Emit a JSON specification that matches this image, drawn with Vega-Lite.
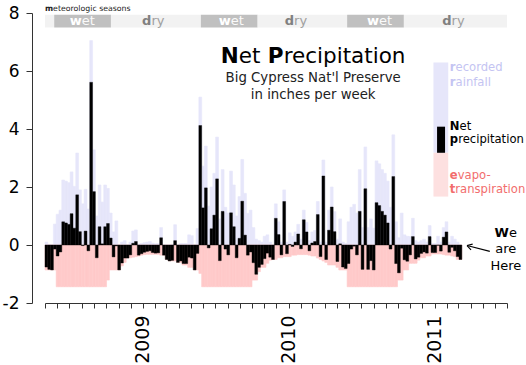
{
"$schema": "https://vega.github.io/schema/vega-lite/v6.json",
"width": 462, "height": 290,
"autosize": {"type": "none"},
"padding": {"left": 45, "top": 13, "right": 19, "bottom": 62},
"background": "white",
"config": {"view": {"stroke": null}, "font": "DejaVu Sans", "text": {"font": "DejaVu Sans"}},
"datasets": {
"weeks": [
{"d":"2008-05-01","d2":"2008-05-08","rain":0.1,"et":-0.86,"net":-0.76},
{"d":"2008-05-08","d2":"2008-05-15","rain":0.02,"et":-0.86,"net":-0.84},
{"d":"2008-05-15","d2":"2008-05-22","rain":0,"et":-0.86,"net":-0.86},
{"d":"2008-05-22","d2":"2008-05-29","rain":0.72,"et":-0.86,"net":-0.14},
{"d":"2008-05-29","d2":"2008-06-05","rain":1.06,"et":-1.44,"net":-0.38},
{"d":"2008-06-05","d2":"2008-06-12","rain":1.2,"et":-1.44,"net":-0.24},
{"d":"2008-06-12","d2":"2008-06-19","rain":2.24,"et":-1.44,"net":0.8},
{"d":"2008-06-19","d2":"2008-06-26","rain":2.2,"et":-1.44,"net":0.76},
{"d":"2008-06-26","d2":"2008-07-03","rain":2.15,"et":-1.44,"net":0.71},
{"d":"2008-07-03","d2":"2008-07-10","rain":2.52,"et":-1.44,"net":1.08},
{"d":"2008-07-10","d2":"2008-07-17","rain":2.02,"et":-1.44,"net":0.58},
{"d":"2008-07-17","d2":"2008-07-24","rain":3.17,"et":-1.44,"net":1.73},
{"d":"2008-07-24","d2":"2008-07-31","rain":1.9,"et":-1.44,"net":0.46},
{"d":"2008-07-31","d2":"2008-08-07","rain":1.42,"et":-1.44,"net":-0.02},
{"d":"2008-08-07","d2":"2008-08-14","rain":1.92,"et":-1.44,"net":0.48},
{"d":"2008-08-14","d2":"2008-08-21","rain":1.24,"et":-1.44,"net":-0.2},
{"d":"2008-08-21","d2":"2008-08-28","rain":7.05,"et":-1.44,"net":5.61},
{"d":"2008-08-28","d2":"2008-09-04","rain":3.28,"et":-1.44,"net":1.84},
{"d":"2008-09-04","d2":"2008-09-11","rain":1.0,"et":-1.44,"net":-0.44},
{"d":"2008-09-11","d2":"2008-09-18","rain":2.07,"et":-1.44,"net":0.63},
{"d":"2008-09-18","d2":"2008-09-25","rain":1.48,"et":-1.44,"net":0.04},
{"d":"2008-09-25","d2":"2008-10-02","rain":2.07,"et":-1.44,"net":0.63},
{"d":"2008-10-02","d2":"2008-10-09","rain":1.95,"et":-1.21,"net":0.74},
{"d":"2008-10-09","d2":"2008-10-16","rain":1.1,"et":-0.86,"net":0.24},
{"d":"2008-10-16","d2":"2008-10-23","rain":0.45,"et":-0.86,"net":-0.41},
{"d":"2008-10-23","d2":"2008-10-30","rain":0.83,"et":-0.86,"net":-0.03},
{"d":"2008-10-30","d2":"2008-11-06","rain":0,"et":-0.86,"net":-0.86},
{"d":"2008-11-06","d2":"2008-11-13","rain":0.1,"et":-0.72,"net":-0.62},
{"d":"2008-11-13","d2":"2008-11-20","rain":0.15,"et":-0.6,"net":-0.45},
{"d":"2008-11-20","d2":"2008-11-27","rain":0,"et":-0.45,"net":-0.45},
{"d":"2008-11-27","d2":"2008-12-04","rain":0.1,"et":-0.44,"net":-0.34},
{"d":"2008-12-04","d2":"2008-12-11","rain":0.48,"et":-0.42,"net":0.06},
{"d":"2008-12-11","d2":"2008-12-18","rain":0.52,"et":-0.4,"net":0.12},
{"d":"2008-12-18","d2":"2008-12-25","rain":0.03,"et":-0.38,"net":-0.35},
{"d":"2008-12-25","d2":"2009-01-01","rain":0.05,"et":-0.35,"net":-0.3},
{"d":"2009-01-01","d2":"2009-01-08","rain":0.08,"et":-0.33,"net":-0.25},
{"d":"2009-01-08","d2":"2009-01-15","rain":0.1,"et":-0.32,"net":-0.22},
{"d":"2009-01-15","d2":"2009-01-22","rain":0.12,"et":-0.32,"net":-0.2},
{"d":"2009-01-22","d2":"2009-01-29","rain":0.06,"et":-0.32,"net":-0.26},
{"d":"2009-01-29","d2":"2009-02-05","rain":0.04,"et":-0.32,"net":-0.28},
{"d":"2009-02-05","d2":"2009-02-12","rain":0.05,"et":-0.32,"net":-0.27},
{"d":"2009-02-12","d2":"2009-02-19","rain":0.6,"et":-0.35,"net":0.25},
{"d":"2009-02-19","d2":"2009-02-26","rain":0,"et":-0.35,"net":-0.35},
{"d":"2009-02-26","d2":"2009-03-05","rain":0,"et":-0.5,"net":-0.5},
{"d":"2009-03-05","d2":"2009-03-12","rain":0,"et":-0.55,"net":-0.55},
{"d":"2009-03-12","d2":"2009-03-19","rain":0.02,"et":-0.55,"net":-0.53},
{"d":"2009-03-19","d2":"2009-03-26","rain":0.7,"et":-0.55,"net":0.15},
{"d":"2009-03-26","d2":"2009-04-02","rain":0,"et":-0.6,"net":-0.6},
{"d":"2009-04-02","d2":"2009-04-09","rain":0.05,"et":-0.6,"net":-0.55},
{"d":"2009-04-09","d2":"2009-04-16","rain":0.05,"et":-0.69,"net":-0.64},
{"d":"2009-04-16","d2":"2009-04-23","rain":0.05,"et":-0.69,"net":-0.64},
{"d":"2009-04-23","d2":"2009-04-30","rain":0.35,"et":-0.77,"net":-0.42},
{"d":"2009-04-30","d2":"2009-05-07","rain":0.32,"et":-0.77,"net":-0.45},
{"d":"2009-05-07","d2":"2009-05-14","rain":0,"et":-0.86,"net":-0.86},
{"d":"2009-05-14","d2":"2009-05-21","rain":0.57,"et":-0.86,"net":-0.29},
{"d":"2009-05-21","d2":"2009-05-28","rain":5.1,"et":-0.98,"net":4.12},
{"d":"2009-05-28","d2":"2009-06-04","rain":2.72,"et":-1.44,"net":1.28},
{"d":"2009-06-04","d2":"2009-06-11","rain":3.41,"et":-1.44,"net":1.97},
{"d":"2009-06-11","d2":"2009-06-18","rain":1.34,"et":-1.44,"net":-0.1},
{"d":"2009-06-18","d2":"2009-06-25","rain":2.0,"et":-1.44,"net":0.56},
{"d":"2009-06-25","d2":"2009-07-02","rain":2.47,"et":-1.44,"net":1.03},
{"d":"2009-07-02","d2":"2009-07-09","rain":3.72,"et":-1.44,"net":2.28},
{"d":"2009-07-09","d2":"2009-07-16","rain":0.9,"et":-1.44,"net":-0.54},
{"d":"2009-07-16","d2":"2009-07-23","rain":2.6,"et":-1.44,"net":1.16},
{"d":"2009-07-23","d2":"2009-07-30","rain":1.3,"et":-1.44,"net":-0.14},
{"d":"2009-07-30","d2":"2009-08-06","rain":1.1,"et":-1.44,"net":-0.34},
{"d":"2009-08-06","d2":"2009-08-13","rain":2.55,"et":-1.44,"net":1.11},
{"d":"2009-08-13","d2":"2009-08-20","rain":2.07,"et":-1.44,"net":0.63},
{"d":"2009-08-20","d2":"2009-08-27","rain":1.0,"et":-1.44,"net":-0.44},
{"d":"2009-08-27","d2":"2009-09-03","rain":1.67,"et":-1.44,"net":0.23},
{"d":"2009-09-03","d2":"2009-09-10","rain":2.95,"et":-1.44,"net":1.51},
{"d":"2009-09-10","d2":"2009-09-17","rain":1.78,"et":-1.44,"net":0.34},
{"d":"2009-09-17","d2":"2009-09-24","rain":1.09,"et":-1.44,"net":-0.35},
{"d":"2009-09-24","d2":"2009-10-01","rain":1.2,"et":-1.44,"net":-0.24},
{"d":"2009-10-01","d2":"2009-10-08","rain":0.6,"et":-1.21,"net":-0.61},
{"d":"2009-10-08","d2":"2009-10-15","rain":0.2,"et":-1.21,"net":-1.01},
{"d":"2009-10-15","d2":"2009-10-22","rain":0.15,"et":-0.92,"net":-0.77},
{"d":"2009-10-22","d2":"2009-10-29","rain":0.1,"et":-0.77,"net":-0.67},
{"d":"2009-10-29","d2":"2009-11-05","rain":0.3,"et":-0.77,"net":-0.47},
{"d":"2009-11-05","d2":"2009-11-12","rain":0.35,"et":-0.63,"net":-0.28},
{"d":"2009-11-12","d2":"2009-11-19","rain":0.1,"et":-0.52,"net":-0.42},
{"d":"2009-11-19","d2":"2009-11-26","rain":0,"et":-0.5,"net":-0.5},
{"d":"2009-11-26","d2":"2009-12-03","rain":1.42,"et":-0.5,"net":0.92},
{"d":"2009-12-03","d2":"2009-12-10","rain":0.8,"et":-0.44,"net":0.36},
{"d":"2009-12-10","d2":"2009-12-17","rain":0.1,"et":-0.44,"net":-0.34},
{"d":"2009-12-17","d2":"2009-12-24","rain":1.9,"et":-0.4,"net":1.5},
{"d":"2009-12-24","d2":"2009-12-31","rain":0.1,"et":-0.4,"net":-0.3},
{"d":"2009-12-31","d2":"2010-01-07","rain":0.42,"et":-0.4,"net":0.02},
{"d":"2010-01-07","d2":"2010-01-14","rain":0.3,"et":-0.35,"net":-0.05},
{"d":"2010-01-14","d2":"2010-01-21","rain":0.45,"et":-0.35,"net":0.1},
{"d":"2010-01-21","d2":"2010-01-28","rain":0.71,"et":-0.33,"net":0.38},
{"d":"2010-01-28","d2":"2010-02-04","rain":0.2,"et":-0.33,"net":-0.13},
{"d":"2010-02-04","d2":"2010-02-11","rain":1.2,"et":-0.33,"net":0.87},
{"d":"2010-02-11","d2":"2010-02-18","rain":0.78,"et":-0.33,"net":0.45},
{"d":"2010-02-18","d2":"2010-02-25","rain":0.15,"et":-0.35,"net":-0.2},
{"d":"2010-02-25","d2":"2010-03-04","rain":0.45,"et":-0.38,"net":0.07},
{"d":"2010-03-04","d2":"2010-03-11","rain":0.5,"et":-0.38,"net":0.12},
{"d":"2010-03-11","d2":"2010-03-18","rain":1.5,"et":-0.45,"net":1.05},
{"d":"2010-03-18","d2":"2010-03-25","rain":0.1,"et":-0.5,"net":-0.4},
{"d":"2010-03-25","d2":"2010-04-01","rain":2.93,"et":-0.55,"net":2.38},
{"d":"2010-04-01","d2":"2010-04-08","rain":0.1,"et":-0.6,"net":-0.5},
{"d":"2010-04-08","d2":"2010-04-15","rain":1.2,"et":-0.69,"net":0.51},
{"d":"2010-04-15","d2":"2010-04-22","rain":2.0,"et":-0.69,"net":1.31},
{"d":"2010-04-22","d2":"2010-04-29","rain":1.15,"et":-0.69,"net":0.46},
{"d":"2010-04-29","d2":"2010-05-06","rain":0.2,"et":-0.77,"net":-0.57},
{"d":"2010-05-06","d2":"2010-05-13","rain":0.9,"et":-0.86,"net":0.04},
{"d":"2010-05-13","d2":"2010-05-20","rain":0.1,"et":-0.86,"net":-0.76},
{"d":"2010-05-20","d2":"2010-05-27","rain":0.05,"et":-0.86,"net":-0.81},
{"d":"2010-05-27","d2":"2010-06-03","rain":0.8,"et":-1.44,"net":-0.64},
{"d":"2010-06-03","d2":"2010-06-10","rain":1.3,"et":-1.44,"net":-0.14},
{"d":"2010-06-10","d2":"2010-06-17","rain":1.4,"et":-1.44,"net":-0.04},
{"d":"2010-06-17","d2":"2010-06-24","rain":1.1,"et":-1.44,"net":-0.34},
{"d":"2010-06-24","d2":"2010-07-01","rain":2.6,"et":-1.44,"net":1.16},
{"d":"2010-07-01","d2":"2010-07-08","rain":0.6,"et":-1.44,"net":-0.84},
{"d":"2010-07-08","d2":"2010-07-15","rain":3.38,"et":-1.44,"net":1.94},
{"d":"2010-07-15","d2":"2010-07-22","rain":0.6,"et":-1.44,"net":-0.84},
{"d":"2010-07-22","d2":"2010-07-29","rain":0.9,"et":-1.44,"net":-0.54},
{"d":"2010-07-29","d2":"2010-08-05","rain":0.58,"et":-1.44,"net":-0.86},
{"d":"2010-08-05","d2":"2010-08-12","rain":2.9,"et":-1.44,"net":1.46},
{"d":"2010-08-12","d2":"2010-08-19","rain":2.8,"et":-1.44,"net":1.36},
{"d":"2010-08-19","d2":"2010-08-26","rain":2.6,"et":-1.44,"net":1.16},
{"d":"2010-08-26","d2":"2010-09-02","rain":2.47,"et":-1.44,"net":1.03},
{"d":"2010-09-02","d2":"2010-09-09","rain":2.2,"et":-1.44,"net":0.76},
{"d":"2010-09-09","d2":"2010-09-16","rain":1.3,"et":-1.44,"net":-0.14},
{"d":"2010-09-16","d2":"2010-09-23","rain":3.8,"et":-1.44,"net":2.36},
{"d":"2010-09-23","d2":"2010-09-30","rain":0.8,"et":-1.44,"net":-0.64},
{"d":"2010-09-30","d2":"2010-10-07","rain":0.25,"et":-1.21,"net":-0.96},
{"d":"2010-10-07","d2":"2010-10-14","rain":1.1,"et":-1.21,"net":-0.11},
{"d":"2010-10-14","d2":"2010-10-21","rain":0.35,"et":-0.86,"net":-0.51},
{"d":"2010-10-21","d2":"2010-10-28","rain":0.3,"et":-0.86,"net":-0.56},
{"d":"2010-10-28","d2":"2010-11-04","rain":0.29,"et":-0.63,"net":-0.34},
{"d":"2010-11-04","d2":"2010-11-11","rain":0.92,"et":-0.63,"net":0.29},
{"d":"2010-11-11","d2":"2010-11-18","rain":0.15,"et":-0.63,"net":-0.48},
{"d":"2010-11-18","d2":"2010-11-25","rain":0.1,"et":-0.52,"net":-0.42},
{"d":"2010-11-25","d2":"2010-12-02","rain":0.15,"et":-0.44,"net":-0.29},
{"d":"2010-12-02","d2":"2010-12-09","rain":0.2,"et":-0.44,"net":-0.24},
{"d":"2010-12-09","d2":"2010-12-16","rain":0.1,"et":-0.38,"net":-0.28},
{"d":"2010-12-16","d2":"2010-12-23","rain":0.67,"et":-0.38,"net":0.29},
{"d":"2010-12-23","d2":"2010-12-30","rain":0.05,"et":-0.31,"net":-0.26},
{"d":"2010-12-30","d2":"2011-01-06","rain":0.05,"et":-0.31,"net":-0.26},
{"d":"2011-01-06","d2":"2011-01-13","rain":0.3,"et":-0.31,"net":-0.01},
{"d":"2011-01-13","d2":"2011-01-20","rain":0.1,"et":-0.31,"net":-0.21},
{"d":"2011-01-20","d2":"2011-01-27","rain":0.6,"et":-0.33,"net":0.27},
{"d":"2011-01-27","d2":"2011-02-03","rain":0.8,"et":-0.35,"net":0.45},
{"d":"2011-02-03","d2":"2011-02-10","rain":0.1,"et":-0.35,"net":-0.25},
{"d":"2011-02-10","d2":"2011-02-17","rain":0.3,"et":-0.38,"net":-0.08},
{"d":"2011-02-17","d2":"2011-02-24","rain":0.2,"et":-0.4,"net":-0.2},
{"d":"2011-02-24","d2":"2011-03-03","rain":0.1,"et":-0.5,"net":-0.4},
{"d":"2011-03-03","d2":"2011-03-10","rain":0,"et":-0.5,"net":-0.5}
],
"seasons": [
{"season":"dry","from":"2008-05-01","to":"2008-05-24"},
{"season":"wet","from":"2008-05-24","to":"2008-10-13"},
{"season":"dry","from":"2008-10-13","to":"2009-05-26"},
{"season":"wet","from":"2009-05-26","to":"2009-10-15"},
{"season":"dry","from":"2009-10-15","to":"2010-05-27"},
{"season":"wet","from":"2010-05-27","to":"2010-10-16"},
{"season":"dry","from":"2010-10-16","to":"2011-07-01"}
],
"seasonMids": [
{"season":"wet","mid":"2008-08-02"},
{"season":"dry","mid":"2009-01-27"},
{"season":"wet","mid":"2009-08-10"},
{"season":"dry","mid":"2010-01-19"},
{"season":"wet","mid":"2010-08-16"},
{"season":"dry","mid":"2011-02-17"}
]
},
"layer": [
{"data":{"name":"weeks"},"mark":{"type":"bar","color":"#e6e6fa","stroke":"#e6e6fa","strokeWidth":0.6},
 "encoding":{
  "x":{"field":"d","type":"temporal","title":null,
   "scale":{"type":"utc","domain":[{"year":2008,"month":5,"date":1,"utc":true},{"year":2011,"month":7,"date":1,"utc":true}]},
   "axis":{"orient":"bottom","tickCount":{"interval":"month","step":1},"labelExpr":"utcmonth(datum.value)==0 ? utcFormat(datum.value,'%Y') : ''","labelAngle":-90,"labelFontSize":19,"labelFont":"DejaVu Sans","labelColor":"#000","labelPadding":7,"labelOverlap":false,"labelFlush":false,"labelBound":false,"tickSize":5,"tickColor":"#333","domainColor":"#333","grid":false,"title":null}},
  "x2":{"field":"d2"},
  "y":{"field":"rain","type":"quantitative","title":null,
   "scale":{"domain":[-2,8],"nice":false,"zero":false},
   "axis":{"orient":"left","offset":13,"values":[-2,-1,0,1,2,3,4,5,6,7,8],"labelExpr":"datum.value % 2 == 0 ? '' + datum.value : ''","labelFontSize":17,"labelFont":"DejaVu Sans","labelColor":"#000","labelPadding":7,"tickSize":6,"tickColor":"#333","domainColor":"#333","grid":false,"title":null}},
  "y2":{"datum":0}}},
{"data":{"name":"weeks"},"mark":{"type":"bar","color":"#ffcaca","stroke":"#ffcaca","strokeWidth":0.6},
 "encoding":{"x":{"field":"d","type":"temporal","title":null},"x2":{"field":"d2"},"y":{"field":"et","type":"quantitative","title":null},"y2":{"datum":0}}},
{"data":{"name":"weeks"},"mark":{"type":"bar","color":"#000000","stroke":"#000000","strokeWidth":0.4},
 "encoding":{"x":{"field":"d","type":"temporal","title":null},"x2":{"field":"d2"},"y":{"field":"net","type":"quantitative","title":null},"y2":{"datum":0}}},
{"data":{"name":"seasons"},"mark":{"type":"rect"},
 "encoding":{"x":{"field":"from","type":"temporal","title":null},"x2":{"field":"to"},"y":{"datum":7.94,"type":"quantitative"},"y2":{"datum":7.5},
  "color":{"field":"season","type":"nominal","scale":{"domain":["wet","dry"],"range":["#c0c0c0","#f2f2f2"]},"legend":null}}},
{"data":{"name":"seasonMids"},"transform":[{"filter":"datum.season=='wet'"}],
 "mark":{"type":"text","text":"w","fontWeight":"bold","fontSize":13,"align":"left","dx":-12.5,"baseline":"alphabetic","color":"#ffffff"},
 "encoding":{"x":{"field":"mid","type":"temporal","title":null},"y":{"datum":7.57,"type":"quantitative"}}},
{"data":{"name":"seasonMids"},"transform":[{"filter":"datum.season=='wet'"}],
 "mark":{"type":"text","text":"et","fontSize":13,"align":"left","dx":-0.5,"baseline":"alphabetic","color":"#fafafa"},
 "encoding":{"x":{"field":"mid","type":"temporal","title":null},"y":{"datum":7.57,"type":"quantitative"}}},
{"data":{"name":"seasonMids"},"transform":[{"filter":"datum.season=='dry'"}],
 "mark":{"type":"text","text":"d","fontWeight":"bold","fontSize":13,"align":"left","dx":-11.2,"baseline":"alphabetic","color":"#808080"},
 "encoding":{"x":{"field":"mid","type":"temporal","title":null},"y":{"datum":7.57,"type":"quantitative"}}},
{"data":{"name":"seasonMids"},"transform":[{"filter":"datum.season=='dry'"}],
 "mark":{"type":"text","text":"ry","fontSize":13,"align":"left","dx":-1.9,"baseline":"alphabetic","color":"#a0a0a0"},
 "encoding":{"x":{"field":"mid","type":"temporal","title":null},"y":{"datum":7.57,"type":"quantitative"}}},
{"data":{"values":[{}]},"mark":{"type":"text","text":"m","fontWeight":"bold","fontSize":7.8,"align":"left","baseline":"alphabetic","color":"#222"},
 "encoding":{"x":{"datum":{"year":2008,"month":5,"date":1,"utc":true},"type":"temporal"},"y":{"datum":8.06,"type":"quantitative"}}},
{"data":{"values":[{}]},"mark":{"type":"text","text":"eteorologic seasons","fontSize":7.8,"align":"left","dx":8.1,"baseline":"alphabetic","color":"#222"},
 "encoding":{"x":{"datum":{"year":2008,"month":5,"date":1,"utc":true},"type":"temporal"},"y":{"datum":8.06,"type":"quantitative"}}},
{"data":{"values":[{}]},"mark":{"type":"text","text":"N","fontWeight":"bold","fontSize":21.5,"align":"left","baseline":"alphabetic","color":"#000"},
 "encoding":{"x":{"datum":{"year":2009,"month":7,"date":15,"utc":true},"type":"temporal"},"y":{"datum":6.28,"type":"quantitative"}}},
{"data":{"values":[{}]},"mark":{"type":"text","text":"et","fontSize":21.5,"align":"left","dx":18,"baseline":"alphabetic","color":"#000"},
 "encoding":{"x":{"datum":{"year":2009,"month":7,"date":15,"utc":true},"type":"temporal"},"y":{"datum":6.28,"type":"quantitative"}}},
{"data":{"values":[{}]},"mark":{"type":"text","text":"P","fontWeight":"bold","fontSize":21.5,"align":"left","dx":47,"baseline":"alphabetic","color":"#000"},
 "encoding":{"x":{"datum":{"year":2009,"month":7,"date":15,"utc":true},"type":"temporal"},"y":{"datum":6.28,"type":"quantitative"}}},
{"data":{"values":[{}]},"mark":{"type":"text","text":"recipitation","fontSize":21.5,"align":"left","dx":62.8,"baseline":"alphabetic","color":"#000"},
 "encoding":{"x":{"datum":{"year":2009,"month":7,"date":15,"utc":true},"type":"temporal"},"y":{"datum":6.28,"type":"quantitative"}}},
{"data":{"values":[{}]},"mark":{"type":"text","text":["Big Cypress Nat'l Preserve","in inches per week"],"fontSize":13.3,"lineHeight":16.6,"align":"center","baseline":"alphabetic","color":"#222"},
 "encoding":{"x":{"datum":{"year":2010,"month":3,"date":3,"utc":true},"type":"temporal"},"y":{"datum":5.61,"type":"quantitative"}}},
{"data":{"values":[{}]},"mark":{"type":"rect","color":"#e6e6fa"},
 "encoding":{"x":{"datum":{"year":2010,"month":12,"date":29,"utc":true},"type":"temporal"},"x2":{"datum":{"year":2011,"month":2,"date":4,"utc":true}},"y":{"datum":6.29,"type":"quantitative"},"y2":{"datum":3.18}}},
{"data":{"values":[{}]},"mark":{"type":"rect","color":"#fde0e0"},
 "encoding":{"x":{"datum":{"year":2010,"month":12,"date":29,"utc":true},"type":"temporal"},"x2":{"datum":{"year":2011,"month":2,"date":4,"utc":true}},"y":{"datum":3.18,"type":"quantitative"},"y2":{"datum":1.67}}},
{"data":{"values":[{}]},"mark":{"type":"rect","color":"#000000"},
 "encoding":{"x":{"datum":{"year":2011,"month":1,"date":7,"utc":true},"type":"temporal"},"x2":{"datum":{"year":2011,"month":1,"date":27,"utc":true}},"y":{"datum":4.08,"type":"quantitative"},"y2":{"datum":3.18}}},
{"data":{"values":[{}]},"mark":{"type":"text","text":["r","r"],"fontWeight":"bold","fontSize":11.6,"lineHeight":14.3,"align":"left","baseline":"alphabetic","color":"#c4c4f2"},
 "encoding":{"x":{"datum":{"year":2011,"month":2,"date":8,"utc":true},"type":"temporal"},"y":{"datum":5.99,"type":"quantitative"}}},
{"data":{"values":[{}]},"mark":{"type":"text","text":["ecorded","ainfall"],"fontSize":11.6,"lineHeight":14.3,"align":"left","dx":5.7,"baseline":"alphabetic","color":"#c4c4f2"},
 "encoding":{"x":{"datum":{"year":2011,"month":2,"date":8,"utc":true},"type":"temporal"},"y":{"datum":5.99,"type":"quantitative"}}},
{"data":{"values":[{}]},"mark":{"type":"text","text":"N","fontWeight":"bold","fontSize":11.6,"align":"left","baseline":"alphabetic","color":"#000"},
 "encoding":{"x":{"datum":{"year":2011,"month":2,"date":8,"utc":true},"type":"temporal"},"y":{"datum":3.98,"type":"quantitative"}}},
{"data":{"values":[{}]},"mark":{"type":"text","text":"et","fontSize":11.6,"align":"left","dx":9.7,"baseline":"alphabetic","color":"#000"},
 "encoding":{"x":{"datum":{"year":2011,"month":2,"date":8,"utc":true},"type":"temporal"},"y":{"datum":3.98,"type":"quantitative"}}},
{"data":{"values":[{}]},"mark":{"type":"text","text":"p","fontWeight":"bold","fontSize":11.6,"align":"left","baseline":"alphabetic","color":"#000"},
 "encoding":{"x":{"datum":{"year":2011,"month":2,"date":8,"utc":true},"type":"temporal"},"y":{"datum":3.52,"type":"quantitative"}}},
{"data":{"values":[{}]},"mark":{"type":"text","text":"recipitation","fontSize":11.6,"align":"left","dx":8.3,"baseline":"alphabetic","color":"#000"},
 "encoding":{"x":{"datum":{"year":2011,"month":2,"date":8,"utc":true},"type":"temporal"},"y":{"datum":3.52,"type":"quantitative"}}},
{"data":{"values":[{}]},"mark":{"type":"text","text":"e","fontWeight":"bold","fontSize":11.6,"align":"left","baseline":"alphabetic","color":"#f26d6d"},
 "encoding":{"x":{"datum":{"year":2011,"month":2,"date":8,"utc":true},"type":"temporal"},"y":{"datum":2.29,"type":"quantitative"}}},
{"data":{"values":[{}]},"mark":{"type":"text","text":"vapo-","fontSize":11.6,"align":"left","dx":7.9,"baseline":"alphabetic","color":"#f26d6d"},
 "encoding":{"x":{"datum":{"year":2011,"month":2,"date":8,"utc":true},"type":"temporal"},"y":{"datum":2.29,"type":"quantitative"}}},
{"data":{"values":[{}]},"mark":{"type":"text","text":"t","fontWeight":"bold","fontSize":11.6,"align":"left","baseline":"alphabetic","color":"#f26d6d"},
 "encoding":{"x":{"datum":{"year":2011,"month":2,"date":8,"utc":true},"type":"temporal"},"y":{"datum":1.8,"type":"quantitative"}}},
{"data":{"values":[{}]},"mark":{"type":"text","text":"ranspiration","fontSize":11.6,"align":"left","dx":5.5,"baseline":"alphabetic","color":"#f26d6d"},
 "encoding":{"x":{"datum":{"year":2011,"month":2,"date":8,"utc":true},"type":"temporal"},"y":{"datum":1.8,"type":"quantitative"}}},
{"data":{"values":[{}]},"mark":{"type":"rule","color":"#000","strokeWidth":1.1},
 "encoding":{"x":{"datum":{"year":2011,"month":5,"date":19,"utc":true},"type":"temporal"},"x2":{"datum":{"year":2011,"month":3,"date":23,"utc":true}},"y":{"datum":-0.22,"type":"quantitative"},"y2":{"datum":-0.02}}},
{"data":{"values":[{}]},"mark":{"type":"rule","color":"#000","strokeWidth":1.1},
 "encoding":{"x":{"datum":{"year":2011,"month":4,"date":2,"utc":true},"type":"temporal"},"x2":{"datum":{"year":2011,"month":3,"date":23,"utc":true}},"y":{"datum":-0.17,"type":"quantitative"},"y2":{"datum":-0.02}}},
{"data":{"values":[{}]},"mark":{"type":"rule","color":"#000","strokeWidth":1.1},
 "encoding":{"x":{"datum":{"year":2011,"month":4,"date":6,"utc":true},"type":"temporal"},"x2":{"datum":{"year":2011,"month":3,"date":23,"utc":true}},"y":{"datum":0.03,"type":"quantitative"},"y2":{"datum":-0.02}}},
{"data":{"values":[{}]},"mark":{"type":"text","text":"W","fontWeight":"bold","fontSize":13,"align":"left","dx":-11.2,"baseline":"alphabetic","color":"#000"},
 "encoding":{"x":{"datum":{"year":2011,"month":6,"date":28,"utc":true},"type":"temporal"},"y":{"datum":0.26,"type":"quantitative"}}},
{"data":{"values":[{}]},"mark":{"type":"text","text":"e","fontSize":13,"align":"left","dx":3.1,"baseline":"alphabetic","color":"#000"},
 "encoding":{"x":{"datum":{"year":2011,"month":6,"date":28,"utc":true},"type":"temporal"},"y":{"datum":0.26,"type":"quantitative"}}},
{"data":{"values":[{}]},"mark":{"type":"text","text":["are","Here"],"fontSize":13,"lineHeight":16.7,"align":"center","baseline":"alphabetic","color":"#000"},
 "encoding":{"x":{"datum":{"year":2011,"month":6,"date":28,"utc":true},"type":"temporal"},"y":{"datum":-0.28,"type":"quantitative"}}}
]
}
